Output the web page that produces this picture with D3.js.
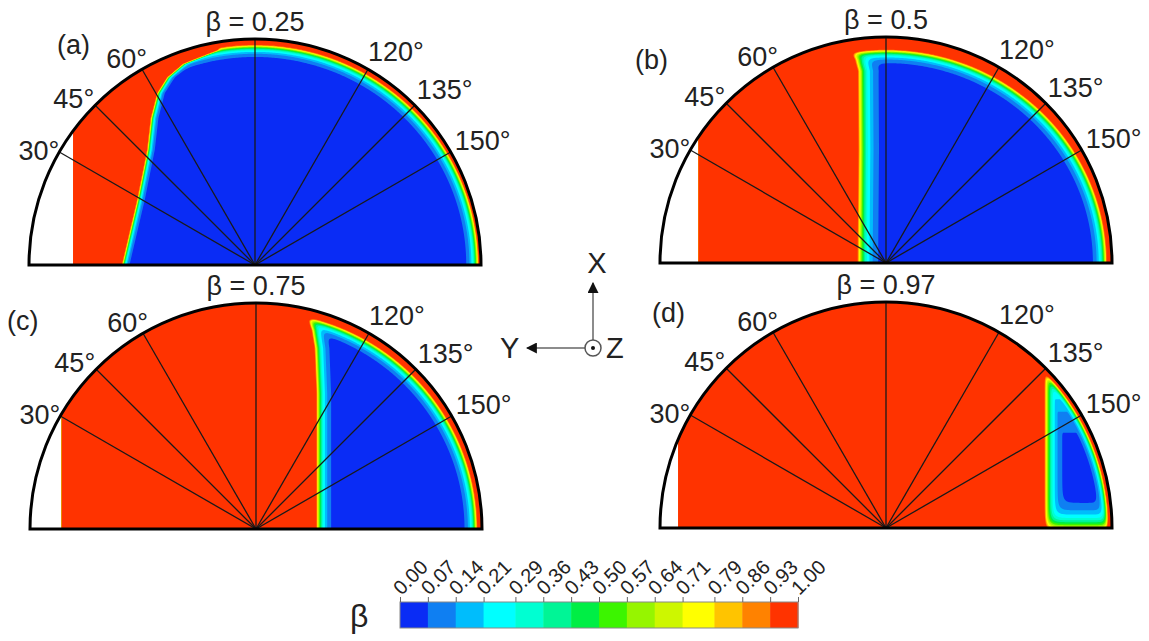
<!DOCTYPE html>
<html>
<head>
<meta charset="utf-8">
<script src="https://cdnjs.cloudflare.com/ajax/libs/d3/7.8.5/d3.min.js"></script>
<style>
  body { margin: 0; background: #fff; }
  text { font-family: "Liberation Sans", Arial, sans-serif; fill: #222; }
</style>
</head>
<body>
<div id="chart"></div>
<script>

// panel values
const betas = [0.25, 0.5, 0.75, 0.97];
const panelTags = ["(a)", "(b)", "(c)", "(d)"];
const rayAngles = [30, 45, 60, 90, 120, 135, 150];
const labelAngles = [30, 45, 60, 120, 135, 150];

// colour levels of beta
const levels = [0, 0.07, 0.14, 0.21, 0.29, 0.36, 0.43, 0.50, 0.57, 0.64, 0.71, 0.79, 0.86, 0.93, 1.00];
const levelColors = ["#0a2cf5", "#0f7ff2", "#00bdfc", "#00ffff", "#00ffd2", "#00f596", "#00ee45",
                     "#3cf500", "#96f500", "#cdf700", "#ffff00", "#ffc400", "#ff8200", "#ff3300"];

// field, all in fractions of the radius
const fillStart = [-0.805, -0.83, -0.86, -0.92];
// red/blue interface as [height, x]
const interfaceA = [[0, -0.59], [0.29, -0.522], [0.51, -0.478], [0.65, -0.462], [0.76, -0.434], [0.83, -0.39], [0.89, -0.32], [0.95, -0.17]];
const interfaceB = [[0, -0.128], [0.5, -0.124], [0.85, -0.126], [0.9, -0.14], [0.93, -0.16]];
const interfaceC = [[0, 0.266], [0.6, 0.266], [0.8, 0.258], [0.88, 0.245], [0.92, 0.23]];
const interfaceD = [[0, 0.70], [0.7, 0.70]];
const interfaceWidth = [0.013, 0.035, 0.025, 0.030];
// wall layer
const wallX = [0.99, 0.978, 0.98, 0.985];
const wallY = [0.975, 0.945, 0.965, 0.985];
const wallWidth = [0.021, 0.024, 0.022, 0.016];
// bottom and top layers (only d)
const floorShift = [null, null, null, 0.014];
const floorWidth = [null, null, null, 0.047];
const ceilingY = [null, null, null, 0.78];
const ceilingWidth = [null, null, null, 0.135];

const interfaces = [interfaceA, interfaceB, interfaceC, interfaceD];

const W = 1149, H = 641, R = 226;
const layout = [
    { cx: 255, cy: 265, tx: -198, ty: -211 },
    { cx: 886, cy: 263, tx: -251, ty: -194 },
    { cx: 256, cy: 529, tx: -249, ty: -199 },
    { cx: 886, cy: 528, tx: -234, ty: -206 }
];

const svg = d3.select("#chart").append("svg")
    .attr("width", W).attr("height", H);

const defs = svg.append("defs");

function betaField(p, X, Y, iface) {
    const ds = [
        (X - iface(Y)) / interfaceWidth[p],
        (1 - Math.hypot(X / wallX[p], Y / wallY[p])) / wallWidth[p]
    ];
    if (floorShift[p] != null) ds.push((Y + floorShift[p]) / floorWidth[p]);
    const k = 0.5;
    const m = d3.min(ds);
    let d = m - k * Math.log(d3.sum(ds, v => Math.exp(-(v - m) / k)));
    // the top of the pocket in (d) is cut off sharply
    if (ceilingY[p] != null) d = Math.min(d, (ceilingY[p] - Y) / ceilingWidth[p]);
    return d <= 0 ? 1 : Math.exp(-d);
}

layout.forEach((L, p) => {
    const { cx, cy } = L;
    const g = svg.append("g");

    // clip: half disc, right of the fill start
    const xl = cx + fillStart[p] * R;
    const yl = cy - Math.sqrt(R * R - (xl - cx) * (xl - cx));
    const clip = d3.path();
    clip.moveTo(xl, cy);
    clip.lineTo(xl, yl);
    clip.arc(cx, cy, R, Math.atan2(yl - cy, xl - cx), 0);
    clip.closePath();
    defs.append("clipPath").attr("id", "clip" + p)
        .append("path").attr("d", clip.toString());

    // sample the field on a 1px grid
    const x0 = cx - R - 2, y0 = cy - R - 2;
    const nx = 2 * R + 5, ny = R + 5;
    const iface = d3.scaleLinear()
        .domain(interfaces[p].map(d => d[0]))
        .range(interfaces[p].map(d => d[1]))
        .clamp(true);
    const values = new Float64Array(nx * ny);
    for (let j = 0; j < ny; j++) {
        for (let i = 0; i < nx; i++) {
            const X = (x0 + i - cx) / R;
            const Y = (cy - (y0 + j)) / R;
            values[i + j * nx] = betaField(p, X, Y, iface);
        }
    }
    const contours = d3.contours()
        .size([nx, ny])
        .thresholds(levels.slice(0, levelColors.length))(values);

    g.append("g")
        .attr("clip-path", "url(#clip" + p + ")")
        .append("g")
        .attr("transform", `translate(${x0 - 0.5},${y0 - 0.5})`)
        .selectAll("path")
        .data(contours)
        .join("path")
        .attr("d", d3.geoPath())
        .attr("fill", (d, i) => levelColors[i]);

    // rays
    const rad = a => a * Math.PI / 180;
    g.append("g").selectAll("line")
        .data(rayAngles)
        .join("line")
        .attr("x1", cx).attr("y1", cy)
        .attr("x2", a => cx - R * Math.cos(rad(a)))
        .attr("y2", a => cy - R * Math.sin(rad(a)))
        .attr("stroke", "#1a1a1a")
        .attr("stroke-width", 1.3);

    // outline
    const outline = d3.path();
    outline.moveTo(cx - R, cy);
    outline.arc(cx, cy, R, Math.PI, 2 * Math.PI);
    outline.closePath();
    g.append("path")
        .attr("d", outline.toString())
        .attr("fill", "none")
        .attr("stroke", "#000")
        .attr("stroke-width", 3);

    // angle labels
    const dx = { 30: 0, 45: -1, 60: 5, 120: 0, 135: 2, 150: 4 };
    const dy = { 30: 8, 45: 3, 60: -1, 120: -8, 135: -6, 150: -2 };
    g.append("g").selectAll("text")
        .data(labelAngles)
        .join("text")
        .attr("x", a => cx - R * Math.cos(rad(a)) + dx[a])
        .attr("y", a => cy - R * Math.sin(rad(a)) + dy[a])
        .attr("text-anchor", a => a < 90 ? "end" : "start")
        .style("font-size", "27px")
        .text(a => a + "°");

    g.append("text")
        .attr("x", cx).attr("y", cy - R - 8)
        .attr("text-anchor", "middle")
        .style("font-size", "27px")
        .text("β = " + betas[p]);

    g.append("text")
        .attr("x", cx + L.tx).attr("y", cy + L.ty)
        .style("font-size", "27px")
        .text(panelTags[p]);
});

// coordinate triad
const triad = svg.append("g");
const ox = 593, oy = 348;
defs.append("marker")
    .attr("id", "arrow")
    .attr("viewBox", "0 0 10 10")
    .attr("refX", 9).attr("refY", 5)
    .attr("markerWidth", 11).attr("markerHeight", 11)
    .attr("markerUnits", "userSpaceOnUse")
    .attr("orient", "auto")
    .append("path")
    .attr("d", "M0,0L10,5L0,10z")
    .attr("fill", "#111");
triad.append("line")
    .attr("x1", ox).attr("y1", oy - 8).attr("x2", ox).attr("y2", 283)
    .attr("stroke", "#666").attr("stroke-width", 1.5)
    .attr("marker-end", "url(#arrow)");
triad.append("line")
    .attr("x1", ox - 8).attr("y1", oy).attr("x2", 527).attr("y2", oy)
    .attr("stroke", "#666").attr("stroke-width", 1.5)
    .attr("marker-end", "url(#arrow)");
triad.append("circle")
    .attr("cx", ox).attr("cy", oy).attr("r", 8)
    .attr("fill", "none").attr("stroke", "#555").attr("stroke-width", 1.5);
triad.append("circle")
    .attr("cx", ox).attr("cy", oy).attr("r", 2)
    .attr("fill", "#111");
triad.append("text").attr("x", 597).attr("y", 273)
    .attr("text-anchor", "middle").style("font-size", "29px").text("X");
triad.append("text").attr("x", 500).attr("y", 358)
    .style("font-size", "29px").text("Y");
triad.append("text").attr("x", 606).attr("y", 358)
    .style("font-size", "29px").text("Z");

// colour bar
const bx = d3.scaleLinear().domain([0, 1]).range([400, 798]);
const barTop = 602, barH = 26;
const bar = svg.append("g");
bar.selectAll("rect")
    .data(levelColors)
    .join("rect")
    .attr("x", (d, i) => bx(levels[i]))
    .attr("width", (d, i) => bx(levels[i + 1]) - bx(levels[i]) + 0.5)
    .attr("y", barTop)
    .attr("height", barH)
    .attr("fill", d => d);
bar.append("rect")
    .attr("x", bx(0)).attr("y", barTop)
    .attr("width", bx(1) - bx(0)).attr("height", barH)
    .attr("fill", "none").attr("stroke", "#888").attr("stroke-width", 1);

const axis = bar.append("g")
    .attr("transform", `translate(0,${barTop})`)
    .call(d3.axisTop(bx).tickValues(levels).tickSize(5).tickFormat(d3.format(".2f")));
axis.select(".domain").remove();
axis.selectAll(".tick line").attr("stroke", "#666");
axis.selectAll(".tick text")
    .attr("text-anchor", "start")
    .attr("transform", "translate(1,-6) rotate(-45)")
    .attr("x", 0).attr("y", 0).attr("dy", 0)
    .style("font-size", "20px")
    .style("font-family", "'Liberation Sans', Arial, sans-serif")
    .attr("fill", "#222");

svg.append("text")
    .attr("x", 350).attr("y", 627)
    .style("font-size", "32px")
    .text("β");

</script>
</body>
</html>
